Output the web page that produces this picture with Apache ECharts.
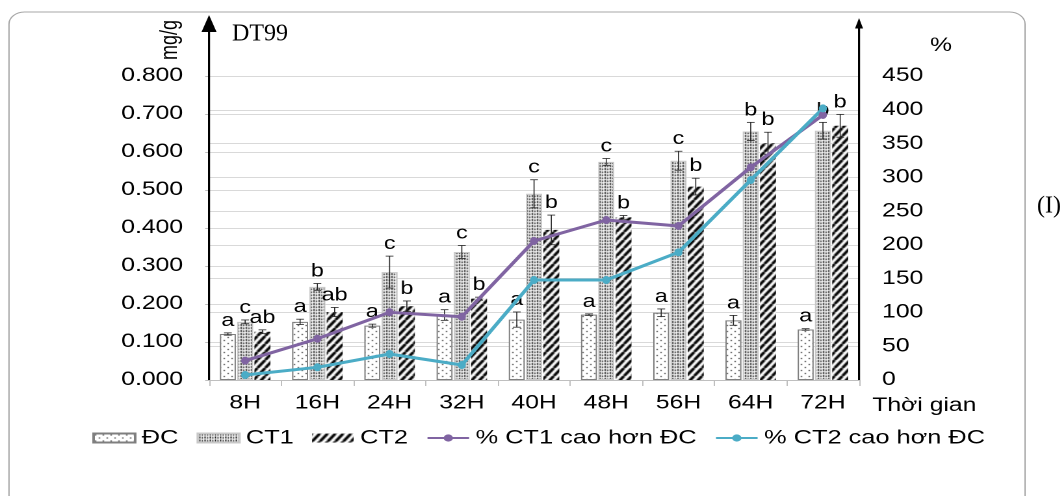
<!DOCTYPE html>
<html>
<head>
<meta charset="utf-8">
<script src="https://cdn.jsdelivr.net/npm/echarts@6/dist/echarts.min.js"></script>
<style>
  html, body { margin: 0; padding: 0; background: #fff; overflow: hidden; }
  #wrap { position: relative; width: 1063px; height: 496px; overflow: hidden; }
  /* the Excel-style chart area is drawn narrow and widened 1.3x */
  #chart { position: absolute; left: 0; top: 0; width: 818px; height: 496px;
           transform: scaleX(1.3); transform-origin: 0 0; }
  #over { position: absolute; left: 0; top: 0; width: 1063px; height: 496px; pointer-events: none; }
</style>
</head>
<body>
<div id="wrap"><div id="chart"></div><div id="over"></div></div>
<script>
// ---- data ----
const categories = ['8H', '16H', '24H', '32H', '40H', '48H', '56H', '64H', '72H'];

// mg/g
const dcValues  = [0.121, 0.153, 0.143, 0.171, 0.159, 0.172, 0.177, 0.157, 0.133];
const ct1Values = [0.153, 0.245, 0.284, 0.337, 0.490, 0.574, 0.577, 0.654, 0.656];
const ct2Values = [0.127, 0.179, 0.194, 0.214, 0.395, 0.428, 0.509, 0.623, 0.669];

// standard deviations
const dcErr  = [0.003, 0.007, 0.004, 0.014, 0.020, 0.002, 0.010, 0.013, 0.002];
const ct1Err = [0.005, 0.009, 0.042, 0.017, 0.037, 0.009, 0.025, 0.024, 0.022];
const ct2Err = [0.005, 0.012, 0.014, 0.004, 0.039, 0.005, 0.022, 0.029, 0.030];

// significance letters
const dcLetters  = ['a', 'a', 'a', 'a', 'a', 'a', 'a', 'a', 'a'];
const ct1Letters = ['c', 'b', 'c', 'c', 'c', 'c', 'c', 'b', 'b'];
const ct2Letters = ['ab', 'ab', 'b', 'b', 'b', 'b', 'b', 'b', 'b'];

// % increase over control
const ct1Percent = [28.6, 61.1, 100.2, 93.7, 205.8, 236.8, 228.0, 314.8, 392.3];
const ct2Percent = [7.4, 18.8, 38.5, 22.2, 148, 148, 189, 296, 402];

const leftTicks  = { min: 0, max: 0.8, interval: 0.1 };
const rightTicks = { min: 0, max: 450, interval: 50 };

const seriesNames = ['ĐC', 'CT1', 'CT2', '% CT1 cao hơn ĐC', '% CT2 cao hơn ĐC'];

// ---- styling ----
const FONT = '"Liberation Sans", Arial, sans-serif';
const BAR_W = 12.3;
const BAR_GAP = 0.08;

function makeTile(w, h, draw) {
  const c = document.createElement('canvas');
  c.width = w; c.height = h;
  const ctx = c.getContext('2d');
  draw(ctx, w, h);
  return c;
}
// sparse dots
const dotTile = makeTile(6, 6, (ctx, w, h) => {
  ctx.fillStyle = '#fff'; ctx.fillRect(0, 0, w, h);
  ctx.fillStyle = '#222';
  ctx.fillRect(1, 1, 1, 1);
  ctx.fillRect(4, 4, 1, 1);
});
// vertical dotted columns
const stippleTile = makeTile(4, 3, (ctx, w, h) => {
  ctx.fillStyle = '#ececec'; ctx.fillRect(0, 0, w, h);
  ctx.fillStyle = '#1a1a1a';
  ctx.fillRect(1, 0, 1, 2);
  ctx.fillRect(3, 1, 1, 1);
  ctx.fillStyle = '#9a9a9a';
  ctx.fillRect(3, 0, 1, 1);
  ctx.fillStyle = '#fff';
  ctx.fillRect(0, 0, 1, 3);
});
// wide diagonal hatch
const hatchTile = makeTile(6, 8, (ctx, w, h) => {
  ctx.fillStyle = '#fff'; ctx.fillRect(0, 0, w, h);
  ctx.strokeStyle = '#000'; ctx.lineWidth = 2.4;
  for (let k = -1; k <= 1; k++) {
    ctx.beginPath();
    ctx.moveTo(k * w, h);
    ctx.lineTo(k * w + w, 0);
    ctx.stroke();
  }
});

function barSeries(name, values, tile, border) {
  return {
    name, type: 'bar', yAxisIndex: 0, barWidth: BAR_W, barGap: (BAR_GAP * 100) + '%',
    data: values,
    itemStyle: { color: { image: tile, repeat: 'repeat' }, borderColor: border, borderWidth: border ? 1 : 0 },
    z: 2
  };
}

function errorSeries(values, errs, letters, slot) {
  return {
    type: 'custom', yAxisIndex: 0, z: 4, silent: true,
    data: values.map((v, i) => [i, v, errs[i]]),
    encode: { x: 0, y: 1 },
    renderItem(params, api) {
      const i = api.value(0), v = api.value(1), e = api.value(2);
      const cx = api.coord([i, v])[0] + (slot - 1) * BAR_W * (1 + BAR_GAP);
      const yT = api.coord([i, v + e])[1];
      const yB = api.coord([i, v - e])[1];
      const cap = 3;
      const st = { stroke: '#262626', lineWidth: 0.8 };
      return {
        type: 'group',
        children: [
          { type: 'line', shape: { x1: cx, y1: yT, x2: cx, y2: yB }, style: st },
          { type: 'line', shape: { x1: cx - cap, y1: yT, x2: cx + cap, y2: yT }, style: st },
          { type: 'line', shape: { x1: cx - cap, y1: yB, x2: cx + cap, y2: yB }, style: st },
          { type: 'text', x: cx, y: yT - 3,
            style: { text: letters[params.dataIndex], align: 'center', verticalAlign: 'bottom',
                     fontSize: 18, fontFamily: FONT, fill: '#000' } }
        ]
      };
    }
  };
}

function lineSeries(name, values, color) {
  return {
    name, type: 'line', yAxisIndex: 1, data: values,
    symbol: 'circle', symbolSize: [6.2, 8],
    lineStyle: { color, width: 3 }, itemStyle: { color },
    z: 6
  };
}

const AX_L = 160.8, AX_R = 660.8, AX_Y0 = 380;

const chart = echarts.init(document.getElementById('chart'), null, { devicePixelRatio: 2 });
chart.setOption({
  animation: false,
  backgroundColor: 'transparent',
  textStyle: { fontFamily: FONT },
  grid: { left: AX_L, right: 818 - AX_R, top: 76, bottom: 496 - AX_Y0 },
  legend: {
    data: seriesNames.map((n, k) => k < 3 ? { name: n, icon: 'rect' } : { name: n }),
    left: 71, top: 428, padding: 0, itemWidth: 32, itemHeight: 9, itemGap: 14,
    textStyle: { fontSize: 19.5, color: '#000', fontFamily: FONT }
  },
  xAxis: {
    type: 'category', data: categories,
    axisLine: { lineStyle: { color: '#bfbfbf', width: 1 } },
    axisTick: { show: true, length: 6, lineStyle: { color: '#bfbfbf' } },
    axisLabel: { fontSize: 19, color: '#000', margin: 14, fontFamily: FONT },
    splitLine: { show: false }
  },
  yAxis: [
    {
      type: 'value', position: 'left', ...leftTicks,
      axisLine: { show: false },
      axisTick: { show: true, length: 3, lineStyle: { color: '#bfbfbf' } },
      axisLabel: { fontSize: 19, color: '#000', margin: 20, fontFamily: FONT,
                   formatter: v => v.toFixed(3) },
      splitLine: { lineStyle: { color: '#d9d9d9', width: 1 } }
    },
    {
      type: 'value', position: 'right', ...rightTicks,
      axisLine: { show: false },
      axisTick: { show: false },
      axisLabel: { fontSize: 19, color: '#000', margin: 17.7, fontFamily: FONT },
      splitLine: { lineStyle: { color: '#d9d9d9', width: 1 } }
    }
  ],
  series: [
    barSeries(seriesNames[0], dcValues, dotTile, '#7f7f7f'),
    barSeries(seriesNames[1], ct1Values, stippleTile, '#c8c8c8'),
    barSeries(seriesNames[2], ct2Values, hatchTile, null),
    errorSeries(dcValues, dcErr, dcLetters, 0),
    errorSeries(ct1Values, ct1Err, ct1Letters, 1),
    errorSeries(ct2Values, ct2Err, ct2Letters, 2),
    lineSeries(seriesNames[3], ct1Percent, '#8064a2'),
    lineSeries(seriesNames[4], ct2Percent, '#4bacc6')
  ],
  graphic: [
    { type: 'rect', shape: { x: 6.9, y: 12, width: 781.6, height: 500, r: 12 },
      style: { fill: 'none', stroke: '#a6a6a6', lineWidth: 1 }, z: 0, silent: true },
    // left value axis with arrow
    { type: 'line', shape: { x1: AX_L, y1: AX_Y0, x2: AX_L, y2: 28 },
      style: { stroke: '#000', lineWidth: 1.6 }, z: 20 },
    { type: 'polygon', shape: { points: [[AX_L - 5.8, 32], [AX_L + 5.8, 32], [AX_L, 15]] },
      style: { fill: '#000' }, z: 20 },
    // right value axis with arrow
    { type: 'line', shape: { x1: AX_R, y1: AX_Y0, x2: AX_R, y2: 26 },
      style: { stroke: '#000', lineWidth: 1.6 }, z: 20 },
    { type: 'polygon', shape: { points: [[AX_R - 3.1, 28.5], [AX_R + 3.1, 28.5], [AX_R, 18]] },
      style: { fill: '#000' }, z: 20 },
    { type: 'text', x: 130.8, y: 40, rotation: Math.PI / 2,
      style: { text: 'mg/g', fontSize: 18, fontFamily: FONT, fill: '#000', align: 'center', verticalAlign: 'middle' } },
    { type: 'text', x: 715.4, y: 46,
      style: { text: '%', fontSize: 19, fontFamily: FONT, fill: '#000', align: 'left', verticalAlign: 'middle' } },
    { type: 'text', x: 671, y: 406,
      style: { text: 'Thời gian', fontSize: 19, fontFamily: FONT, fill: '#000', align: 'left', verticalAlign: 'middle' } }
  ]
});

// titles drawn at natural width
const over = echarts.init(document.getElementById('over'), null, { devicePixelRatio: 2 });
over.setOption({
  animation: false,
  backgroundColor: 'transparent',
  graphic: [
    { type: 'text', x: 232, y: 34,
      style: { text: 'DT99', fontSize: 24, fontFamily: '"Liberation Serif", "Times New Roman", serif',
               fill: '#000', align: 'left', verticalAlign: 'middle' } },
    { type: 'text', x: 1037, y: 206,
      style: { text: '(I)', fontSize: 24, fontFamily: '"Liberation Serif", "Times New Roman", serif',
               fill: '#000', align: 'left', verticalAlign: 'middle' } }
  ]
});
</script>
</body>
</html>
